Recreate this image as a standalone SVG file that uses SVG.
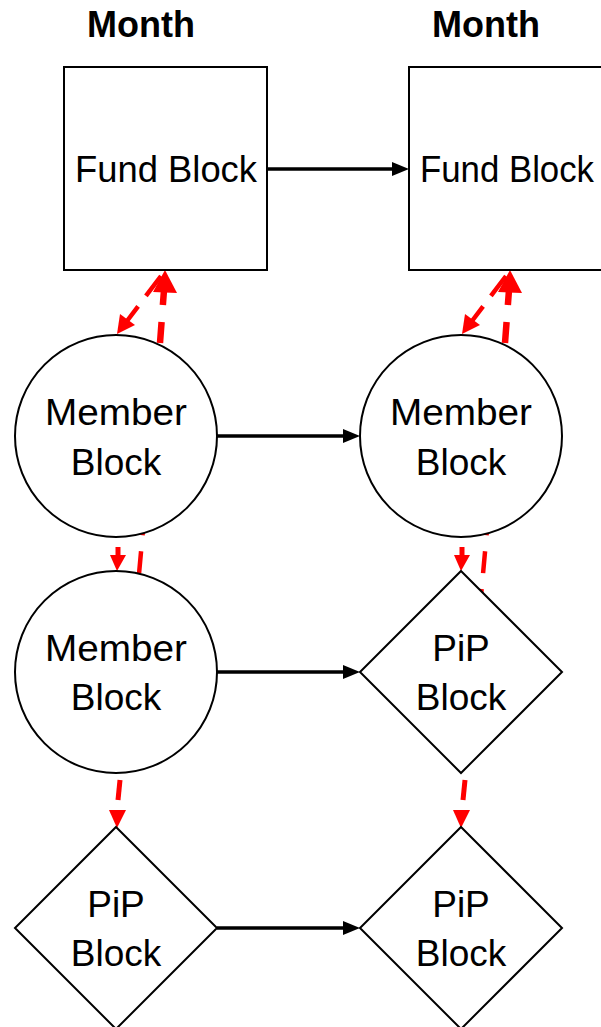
<svg xmlns="http://www.w3.org/2000/svg" width="601" height="1027" viewBox="0 0 601 1027">
  <style>
    .node { fill: #ffffff; stroke: #000000; stroke-width: 2; }
    .label { font-family: "Liberation Sans", Arial, sans-serif; font-size: 37px; fill: #000000; text-anchor: middle; }
    .head { font-family: "Liberation Sans", Arial, sans-serif; font-size: 36px; font-weight: bold; fill: #000000; text-anchor: middle; }
    .flow { stroke: #000000; stroke-width: 3.5; fill: none; }
    .link { stroke: #ff0000; fill: none; }
    .tip { fill: #ff0000; }
    .tipk { fill: #000000; }
  </style>

  <!-- column headings -->
  <text class="head" x="141" y="37">Month</text>
  <text class="head" x="486" y="37">Month</text>

  <!-- connectors sit under the nodes -->
  <g id="connectors">
    <!-- black time-step arrows -->
    <line class="flow" x1="267" y1="169" x2="395" y2="169"/>
    <polygon class="tipk" points="409,169 392,162 392,176"/>
    <line class="flow" x1="217" y1="436" x2="346" y2="436"/>
    <polygon class="tipk" points="360,436 343,429 343,443"/>
    <line class="flow" x1="217" y1="672" x2="346" y2="672"/>
    <polygon class="tipk" points="360,672 343,665 343,679"/>
    <line class="flow" x1="217" y1="928" x2="346" y2="928"/>
    <polygon class="tipk" points="360,928 343,921 343,935"/>

    <!-- member to fund, left -->
    <path class="link" stroke-width="6.5" stroke-dasharray="21 17 100" d="M160,343 L164,290"/>
    <polygon class="tip" points="165,270 153,292 177,293"/>
    <!-- fund to member, left -->
    <path class="link" stroke-width="4.5" stroke-dasharray="25 13 60" d="M161,276 L127,321"/>
    <polygon class="tip" points="117,334 120,314 135,325"/>

    <!-- member to fund, right -->
    <path class="link" stroke-width="6.5" stroke-dasharray="21 17 100" d="M505,343 L509,290"/>
    <polygon class="tip" points="510,270 498,292 522,293"/>
    <!-- fund to member, right -->
    <path class="link" stroke-width="4.5" stroke-dasharray="25 13 60" d="M506,276 L472,321"/>
    <polygon class="tip" points="462,334 465,314 480,325"/>

    <!-- row 1 to row 2, left -->
    <line class="link" stroke-width="5" x1="118" y1="547" x2="118" y2="557"/>
    <polygon class="tip" points="117,571 110,555 126,555"/>
    <path class="link" stroke-width="4.5" stroke-dasharray="7 16 22 16" d="M137,596 L143,530"/>

    <!-- row 1 to row 2, right -->
    <line class="link" stroke-width="5" x1="462" y1="547" x2="462" y2="557"/>
    <polygon class="tip" points="461,571 454,555 470,555"/>
    <path class="link" stroke-width="4.5" stroke-dasharray="7 16 22 16" d="M481,596 L487,530"/>

    <!-- row 2 to row 3, left -->
    <line class="link" stroke-width="5" x1="120" y1="780" x2="118" y2="800"/>
    <polygon class="tip" points="117,828 109,810 126,810"/>

    <!-- row 2 to row 3, right -->
    <line class="link" stroke-width="5" x1="465" y1="780" x2="463" y2="800"/>
    <polygon class="tip" points="461,828 453,810 470,810"/>
  </g>

  <!-- fund blocks -->
  <g id="fund-left">
    <rect class="node" x="64" y="67" width="203" height="203"/>
    <text class="label" x="166" y="182" textLength="182" lengthAdjust="spacingAndGlyphs">Fund Block</text>
  </g>
  <g id="fund-right">
    <rect class="node" x="409" y="67" width="203" height="203"/>
    <text class="label" x="507" y="182" textLength="174" lengthAdjust="spacingAndGlyphs">Fund Block</text>
  </g>

  <!-- member blocks -->
  <g id="member-left-1">
    <circle class="node" cx="116" cy="436" r="101"/>
    <text class="label" x="116" y="425" textLength="142" lengthAdjust="spacingAndGlyphs">Member</text>
    <text class="label" x="116" y="475">Block</text>
  </g>
  <g id="member-right-1">
    <circle class="node" cx="461" cy="436" r="101"/>
    <text class="label" x="461" y="425" textLength="142" lengthAdjust="spacingAndGlyphs">Member</text>
    <text class="label" x="461" y="475">Block</text>
  </g>
  <g id="member-left-2">
    <circle class="node" cx="116" cy="672" r="101"/>
    <text class="label" x="116" y="661" textLength="142" lengthAdjust="spacingAndGlyphs">Member</text>
    <text class="label" x="116" y="710">Block</text>
  </g>

  <!-- PiP blocks -->
  <g id="pip-right-2">
    <polygon class="node" points="461,571 562,672 461,773 360,672"/>
    <text class="label" x="461" y="661">PiP</text>
    <text class="label" x="461" y="710">Block</text>
  </g>
  <g id="pip-left-3">
    <polygon class="node" points="116,827 217,928 116,1029 15,928"/>
    <text class="label" x="116" y="917">PiP</text>
    <text class="label" x="116" y="966">Block</text>
  </g>
  <g id="pip-right-3">
    <polygon class="node" points="461,827 562,928 461,1029 360,928"/>
    <text class="label" x="461" y="917">PiP</text>
    <text class="label" x="461" y="966">Block</text>
  </g>
</svg>
